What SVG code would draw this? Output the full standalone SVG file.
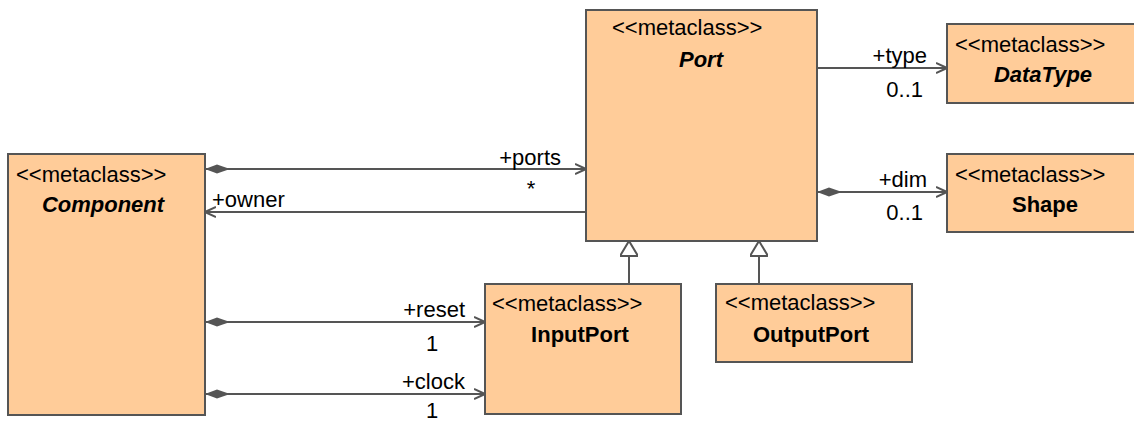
<svg xmlns="http://www.w3.org/2000/svg" width="1134" height="421" viewBox="0 0 1134 421">
<style>
.box{fill:#FFCC99;stroke:#555;stroke-width:2}
text{font-family:"Liberation Sans",Arial,sans-serif;font-size:22px;fill:#000}
.name{font-weight:bold;text-anchor:middle}
.it{font-style:italic}
.ln{stroke:#555;stroke-width:2;fill:none}
.lbl{text-anchor:end}
.mid{text-anchor:middle}
</style>
<defs>
<marker id="open" viewBox="0 0 12 12" refX="11" refY="6" markerWidth="12" markerHeight="12" markerUnits="userSpaceOnUse" orient="auto">
<path d="M0,1 L11,6 L0,11" fill="none" stroke="#555" stroke-width="2"/>
</marker>
<marker id="diamond" viewBox="0 0 26 10" refX="0" refY="5" markerWidth="26" markerHeight="10" markerUnits="userSpaceOnUse" orient="auto">
<path d="M0,5 L12,0.5 L25,5 L12,9.5 Z" fill="#555"/>
</marker>
<marker id="gen" viewBox="0 0 20 18" refX="17" refY="9" markerWidth="20" markerHeight="18" markerUnits="userSpaceOnUse" orient="auto">
<path d="M2,0 L17,9 L2,18 Z" fill="#fff" stroke="#555" stroke-width="2"/>
</marker>
</defs>
<g id="connectors">
<line class="ln" x1="205" y1="169" x2="586" y2="169" marker-start="url(#diamond)" marker-end="url(#open)"/>
<text class="lbl" x="561" y="165">+ports</text>
<text class="mid" x="531" y="196">*</text>
<line class="ln" x1="586" y1="212" x2="205" y2="212" marker-end="url(#open)"/>
<text x="212" y="207">+owner</text>
<line class="ln" x1="817" y1="68" x2="947" y2="68" marker-end="url(#open)"/>
<text class="lbl" x="927" y="63">+type</text>
<text class="lbl" x="923" y="97">0..1</text>
<line class="ln" x1="817" y1="192" x2="947" y2="192" marker-start="url(#diamond)" marker-end="url(#open)"/>
<text class="lbl" x="927" y="187">+dim</text>
<text class="lbl" x="923" y="220">0..1</text>
<line class="ln" x1="205" y1="322" x2="485" y2="322" marker-start="url(#diamond)" marker-end="url(#open)"/>
<text class="lbl" x="465" y="317">+reset</text>
<text class="mid" x="432" y="351">1</text>
<line class="ln" x1="205" y1="394" x2="485" y2="394" marker-start="url(#diamond)" marker-end="url(#open)"/>
<text class="lbl" x="465" y="389">+clock</text>
<text class="mid" x="432" y="418">1</text>
<line class="ln" x1="629" y1="284" x2="629" y2="241" marker-end="url(#gen)"/>
<line class="ln" x1="759" y1="284" x2="759" y2="241" marker-end="url(#gen)"/>
</g>
<g id="Component">
<rect class="box" x="8" y="154" width="197" height="261"/>
<text x="16" y="182">&lt;&lt;metaclass&gt;&gt;</text>
<text class="name it" x="103" y="212">Component</text>
</g>
<g id="Port">
<rect class="box" x="586" y="10" width="231" height="231"/>
<text x="612" y="35">&lt;&lt;metaclass&gt;&gt;</text>
<text class="name it" x="701" y="67">Port</text>
</g>
<g id="DataType">
<rect class="box" x="947" y="24" width="192" height="79"/>
<text x="955" y="52">&lt;&lt;metaclass&gt;&gt;</text>
<text class="name it" x="1043" y="82">DataType</text>
</g>
<g id="Shape">
<rect class="box" x="947" y="154" width="192" height="78"/>
<text x="955" y="182">&lt;&lt;metaclass&gt;&gt;</text>
<text class="name" x="1045" y="212">Shape</text>
</g>
<g id="InputPort">
<rect class="box" x="485" y="284" width="196" height="130"/>
<text x="492" y="311">&lt;&lt;metaclass&gt;&gt;</text>
<text class="name" x="580" y="342">InputPort</text>
</g>
<g id="OutputPort">
<rect class="box" x="716" y="284" width="196" height="78"/>
<text x="725" y="310">&lt;&lt;metaclass&gt;&gt;</text>
<text class="name" x="811" y="342">OutputPort</text>
</g>
</svg>
